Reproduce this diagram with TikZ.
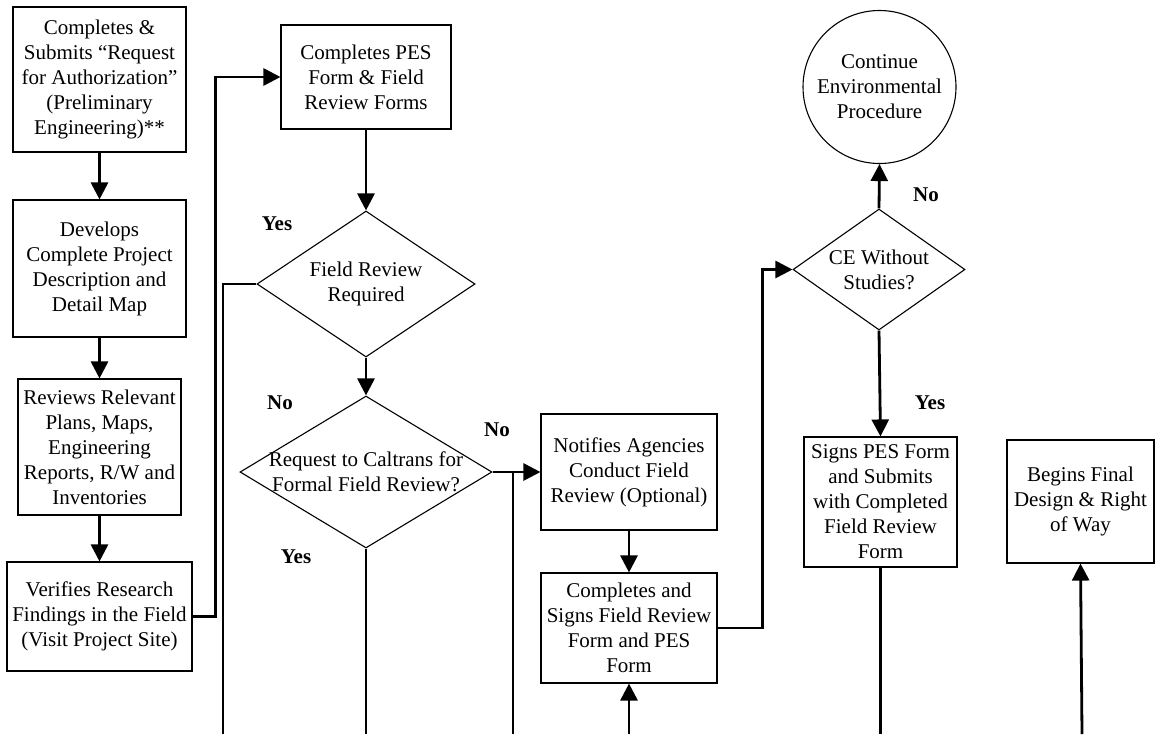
\documentclass[tikz,border=0pt]{standalone}
\usepackage{fontspec}
\setmainfont{Liberation Serif}
\usetikzlibrary{shapes.geometric,arrows.meta,calc}
\begin{document}
\begin{tikzpicture}[x=1pt,y=-1pt,
  every node/.style={font=\fontsize{21}{25}\selectfont, align=center},
  box/.style={draw, line width=1.1pt, rectangle, inner sep=0pt},
  dia/.style={draw, line width=1.1pt, diamond, inner sep=0pt},
  conn/.style={line width=2.8pt},
  arr/.style={line width=2.8pt, -{Triangle[length=17pt,width=17pt]}},
  lbl/.style={font=\fontsize{21}{25}\selectfont\bfseries}]
\useasboundingbox (0,0) rectangle (1155,734);

% boxes
\node[box, minimum width=173pt, minimum height=145pt] (A) at (99.5,79.5) {Completes \&\\Submits “Request\\for Authorization”\\(Preliminary\\Engineering)**};
\node[box, minimum width=173pt, minimum height=137pt] (B) at (99.5,268.5) {Develops\\Complete Project\\Description and\\Detail Map};
\node[box, minimum width=163pt, minimum height=136pt] (C) at (99.5,447) {Reviews Relevant\\Plans, Maps,\\Engineering\\Reports, R/W and\\Inventories};
\node[box, minimum width=185pt, minimum height=109pt] (D) at (99.5,616.5) {Verifies Research\\Findings in the Field\\(Visit Project Site)};
\node[box, minimum width=170pt, minimum height=104pt] (E) at (366,77) {Completes PES\\Form \& Field\\Review Forms};
\node[box, minimum width=176pt, minimum height=116pt] (H) at (629,472) {Notifies Agencies\\Conduct Field\\Review (Optional)};
\node[box, minimum width=176pt, minimum height=110pt] (I) at (629,628) {Completes and\\Signs Field Review\\Form and PES\\Form};
\node[box, minimum width=153pt, minimum height=130pt] (K) at (880.5,502) {Signs PES Form\\and Submits\\with Completed\\Field Review\\Form};
\node[box, minimum width=147pt, minimum height=123pt] (L) at (1080.5,501.5) {Begins Final\\Design \& Right\\of Way};

% diamonds
\node[dia, minimum width=218pt, minimum height=146pt] (F) at (366,284) {};
\node at (F) {Field Review\\Required};
\node[dia, minimum width=252pt, minimum height=152pt] (G) at (366,472) {};
\node at (G) {Request to Caltrans for\\Formal Field Review?};
\node[dia, minimum width=172pt, minimum height=121pt] (J) at (879,269.5) {};
\node at (J) {CE Without\\Studies?};

% circle
\node[draw, circle, line width=1.1pt, minimum size=153pt, inner sep=0pt] (O) at (879.5,87) {Continue\\Environmental\\Procedure};

% free ends
\coordinate (fend) at (223,734);
\coordinate (gend) at (366,734);
\coordinate (hend) at (513,734);
\coordinate (iend) at (629,734);
\coordinate (kend) at (880.5,734);
\coordinate (lend) at (1082,734);

% connectors
\draw[arr] (A) -- (B);
\draw[arr] (B) -- (C);
\draw[arr] (C) -- (D);
\draw[arr] (D.east) -- ++(23,0) |- (E.west);
\draw[arr] (E) -- (F.north);
\draw[conn] (F.west) -| (fend);
\draw[arr] (F.south) -- (G.north);
\draw[conn] (G.south) -- (gend);
\draw[arr] (G.east) -- (H.west);
\draw[conn] (hend |- G.east) -- (hend);
\draw[arr] (H) -- (I);
\draw[arr] (iend) -- (I.south);
\draw[arr] (I.east) -- ++(45,0) |- (J.west);
\draw[arr] (J.north) -- (O.south);
\draw[arr] (J.south) -- (K.north);
\draw[conn] (K.south) -- (kend);
\draw[arr] (lend) -- (L.south);

% labels
\node[lbl] (yes1) at (277,224) {Yes};
\node[lbl] (no1) at (280,403) {No};
\node[lbl] (yes2) at (296,557) {Yes};
\node[lbl] (no2) at (497,430) {No};
\node[lbl] (no3) at (926,195) {No};
\node[lbl] (yes3) at (930,403) {Yes};
\end{tikzpicture}
\end{document}
